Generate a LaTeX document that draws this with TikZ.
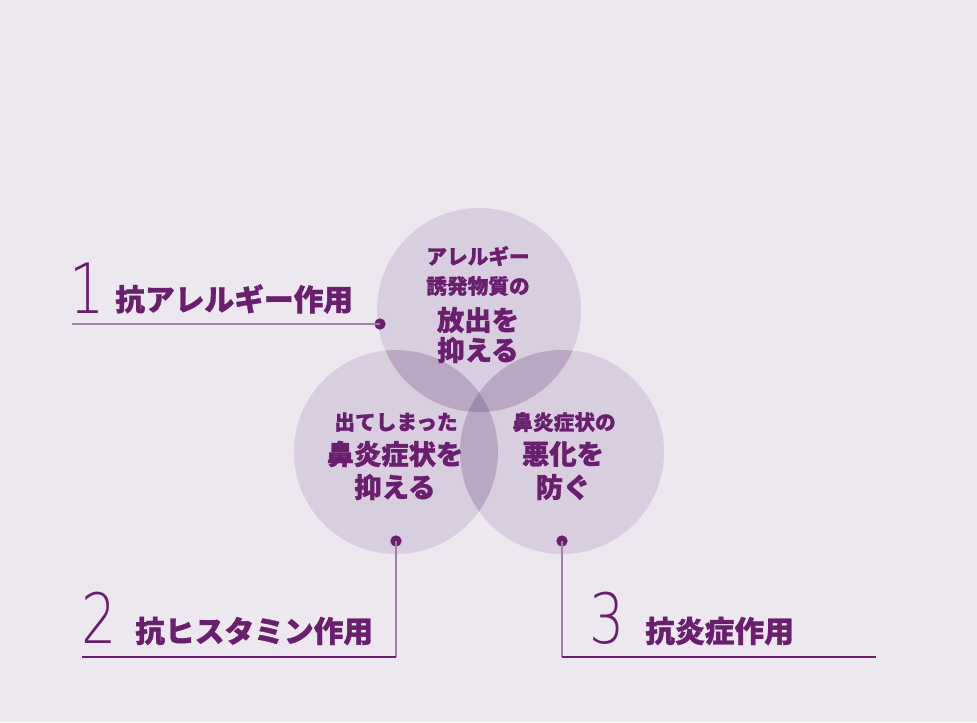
\documentclass[tikz,border=0pt]{standalone}
\usepackage{fontspec}
\newfontfamily\cjk{Noto Sans CJK JP}[BoldFeatures={FakeBold=1.2}]
\newfontfamily\numfont{DejaVu Sans ExtraLight}
\definecolor{bgc}{HTML}{EDE8F0}
\definecolor{cone}{HTML}{D9CEE0}
\definecolor{ctwo}{HTML}{B9A7C4}
\definecolor{cthree}{HTML}{A08AAE}
\definecolor{ink}{HTML}{6A1F6E}
\definecolor{lightline}{HTML}{A77BAE}
\begin{document}
\begin{tikzpicture}[x=0.75pt,y=-0.75pt,
  txt/.style={inner sep=0pt,text=ink,font=\cjk\bfseries},
  small/.style={txt,font=\cjk\bfseries\fontsize{15.5pt}{16pt}\selectfont},
  big/.style={txt,font=\cjk\bfseries\fontsize{20.5pt}{21pt}\selectfont},
  lab/.style={txt,anchor=west,font=\cjk\bfseries\fontsize{22.3pt}{23pt}\selectfont},
  num/.style={inner sep=0pt,text=ink,xscale=0.8,font=\numfont\fontsize{52pt}{53pt}\selectfont},
  dot/.style={circle,fill=ink,inner sep=0pt,minimum size=8.5pt},
  lline/.style={draw=lightline,line width=1pt},
  dline/.style={draw=ink,line width=1pt}]
\fill[bgc] (0,0) rectangle (977,722);
\useasboundingbox (0,0) rectangle (977,722);
\coordinate (T) at (479,310);
\coordinate (L) at (396,452);
\coordinate (R) at (562,452);
\def\rr{76.5pt}
% circles
\fill[cone] (T) circle[radius=\rr];
\fill[cone] (L) circle[radius=\rr];
\fill[cone] (R) circle[radius=\rr];
\begin{scope}
  \clip (T) circle[radius=\rr];
  \fill[ctwo] (L) circle[radius=\rr];
  \fill[ctwo] (R) circle[radius=\rr];
\end{scope}
\begin{scope}
  \clip (L) circle[radius=\rr];
  \fill[ctwo] (R) circle[radius=\rr];
\end{scope}
\begin{scope}
  \clip (T) circle[radius=\rr];
  \clip (L) circle[radius=\rr];
  \fill[cthree] (R) circle[radius=\rr];
\end{scope}
% circle texts
\node[small] (t1) at (478,256) {アレルギー};
\node[small] (t2) at (478,286) {誘発物質の};
\node[big] (t3) at (478,320) {放出を};
\node[big] (t4) at (478,350) {抑える};
\node[small] (l1) at (396,422) {出てしまった};
\node[big] (l2) at (395,454) {鼻炎症状を};
\node[big] (l3) at (395,487) {抑える};
\node[small] (r1) at (564,422) {鼻炎症状の};
\node[big] (r2) at (563,454) {悪化を};
\node[big] (r3) at (563,487) {防ぐ};
% dots and leaders
\node[dot] (d1) at (380,324) {};
\node[dot] (d2) at (396,541) {};
\node[dot] (d3) at (562,541) {};
\coordinate (e1) at (72,324);
\coordinate (c2) at (396,657);
\coordinate (e2) at (82,657);
\coordinate (c3) at (562,657);
\coordinate (e3) at (876,657);
\draw[lline] (e1) -- (d1.center);
\draw[lline] (d2.center) -- (c2);
\draw[dline] (c2) -- (e2);
\draw[lline] (d3.center) -- (c3);
\draw[dline] (c3) -- (e3);
% labels
\node[num] (n1) at (87,288) {1};
\node[lab] (a1) at (115,299) {抗アレルギー作用};
\node[num] (n2) at (99,618) {2};
\node[lab] (a2) at (135,631) {抗ヒスタミン作用};
\node[num] (n3) at (607,618) {3};
\node[lab] (a3) at (645,631) {抗炎症作用};
\end{tikzpicture}
\end{document}
